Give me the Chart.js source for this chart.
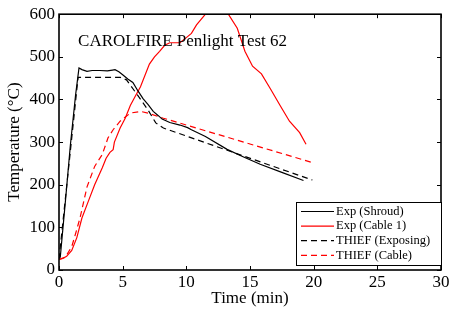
<!DOCTYPE html>
<html>
<head>
<meta charset="utf-8">
<script src="https://cdn.jsdelivr.net/npm/chart.js@4"></script>
<style>
  html, body { margin: 0; padding: 0; background: #fff; }
  #wrap { width: 453px; height: 309px; }
</style>
</head>
<body>
<div id="wrap"><canvas id="c"></canvas></div>
<script>
// Data (time in min, temperature in °C)
const tShroud = [0, 0.1, 0.5, 0.9, 1.3, 1.57, 1.8, 2.2, 2.6, 3.2, 3.8, 4.2, 4.4, 4.7, 5.0, 5.4, 5.8, 6.2, 6.6, 7.0, 7.4, 7.8, 8.1, 8.7, 9.5, 10.1, 10.4, 11.5, 13.2, 14.5, 15.8, 17.5, 19.2];
const vShroud = [28, 30, 160, 295, 410, 474, 470, 466, 468, 468, 467, 469, 470, 465, 458, 448, 440, 420, 402, 388, 372, 362, 354, 346, 340, 334, 329, 313, 283, 265, 248, 229, 210];

const tCable1 = [0, 0.3, 0.6, 1.0, 1.4, 1.8, 2.3, 2.8, 3.4, 3.7, 4.0, 4.25, 4.35, 4.8, 5.2, 5.6, 6.0, 6.4, 7.1, 7.5, 7.9, 8.3, 8.7, 9.5, 10.0, 10.4, 10.8, 11.5, 12.4, 13.3, 14.0, 14.6, 15.2, 15.9, 16.6, 17.4, 18.1, 18.9, 19.4];
const vCable1 = [25, 27, 32, 46, 76, 122, 161, 200, 240, 262, 276, 282, 300, 333, 356, 386, 408, 430, 483, 500, 513, 527, 533, 533, 545, 555, 575, 600, 640, 600, 567, 513, 478, 460, 425, 384, 349, 322, 295];

const tExposing = [0, 1.5, 4.8, 5.3, 6.2, 7.0, 7.6, 8.2, 19.9];
const vExposing = [25, 452, 452, 446, 409, 375, 345, 333, 211];

const tCable = [0, 0.5, 1.0, 1.3, 1.65, 2.2, 2.8, 3.4, 3.85, 4.25, 4.8, 5.6, 6.4, 7.0, 8.2, 19.9];
const vCable = [25, 30, 55, 85, 122, 195, 243, 271, 310, 329, 349, 368, 372, 368, 356, 252];

const labels = ['Exp (Shroud)', 'Exp (Cable 1)', 'THIEF (Exposing)', 'THIEF (Cable)'];
const titleText = 'CAROLFIRE Penlight Test 62';
const xTicksMax = 30, yTicksMax = 600;

const FONT = '"Liberation Serif", "Times New Roman", serif';

function pts(t, v) {
  return t.map((x, i) => ({ x: x, y: v[i] }));
}

function ds(label, t, v, color, dash) {
  return {
    label: label,
    data: pts(t, v),
    borderColor: color,
    borderWidth: 1.2,
    borderDash: dash,
    pointRadius: 0,
    tension: 0,
    fill: false
  };
}

// frame, inward ticks, title text and legend box
const decor = {
  id: 'decor',
  afterDraw(chart) {
    const ctx = chart.ctx;
    const a = chart.chartArea;
    const xs = chart.scales.x, ys = chart.scales.y;
    ctx.save();
    ctx.strokeStyle = '#000';
    ctx.lineWidth = 1;
    const tl = 4;
    ctx.beginPath();
    xs.ticks.forEach(tk => {
      const px = Math.round(xs.getPixelForValue(tk.value)) + 0.5;
      ctx.moveTo(px, a.bottom); ctx.lineTo(px, a.bottom - tl);
      ctx.moveTo(px, a.top); ctx.lineTo(px, a.top + tl);
    });
    ys.ticks.forEach(tk => {
      const py = Math.round(ys.getPixelForValue(tk.value)) + 0.5;
      ctx.moveTo(a.left, py); ctx.lineTo(a.left + tl, py);
      ctx.moveTo(a.right, py); ctx.lineTo(a.right - tl, py);
    });
    ctx.stroke();
    ctx.lineWidth = 1.6;
    ctx.strokeRect(a.left, a.top, a.right - a.left, a.bottom - a.top);

    // annotation text
    ctx.fillStyle = '#000';
    ctx.font = '17px ' + FONT;
    ctx.textBaseline = 'middle';
    ctx.textAlign = 'left';
    ctx.fillText(titleText, xs.getPixelForValue(1.5), ys.getPixelForValue(537));

    // legend
    const bw = 145, bh = 63;
    const bx = a.right - bw, by = a.bottom - 5 - bh;
    ctx.fillStyle = '#fff';
    ctx.fillRect(bx, by, bw, bh);
    ctx.lineWidth = 1;
    ctx.strokeStyle = '#000';
    ctx.strokeRect(bx + 0.5, by + 0.5, bw, bh);
    ctx.font = '12.5px ' + FONT;
    chart.data.datasets.forEach((d, i) => {
      const ry = by + 9.5 + i * 14.6;
      ctx.beginPath();
      ctx.strokeStyle = d.borderColor;
      ctx.lineWidth = 1.2;
      ctx.setLineDash(d.borderDash || []);
      ctx.moveTo(bx + 5, ry);
      ctx.lineTo(bx + 38, ry);
      ctx.stroke();
      ctx.setLineDash([]);
      ctx.fillStyle = '#000';
      ctx.fillText(d.label, bx + 40, ry);
    });
    ctx.restore();
  }
};

new Chart(document.getElementById('c'), {
  type: 'line',
  data: {
    datasets: [
      ds(labels[0], tShroud, vShroud, '#000000', []),
      ds(labels[1], tCable1, vCable1, '#ff0000', []),
      ds(labels[2], tExposing, vExposing, '#000000', [6, 4]),
      ds(labels[3], tCable, vCable, '#ff0000', [6, 4])
    ]
  },
  options: {
    responsive: true,
    maintainAspectRatio: false,
    animation: false,
    layout: { padding: { top: 9, right: 12, left: 0, bottom: 0 } },
    plugins: { legend: { display: false }, tooltip: { enabled: false } },
    scales: {
      x: {
        type: 'linear',
        min: 0, max: xTicksMax,
        grid: { display: false, drawTicks: false },
        border: { display: false },
        ticks: { stepSize: 5, color: '#000', padding: 2, font: { family: FONT, size: 17 } },
        title: { display: true, text: 'Time (min)', color: '#000', padding: { top: 0, bottom: 0 }, font: { family: FONT, size: 17 } },
        afterFit(s) { s.height = 39; }
      },
      y: {
        min: 0, max: yTicksMax,
        grid: { display: false, drawTicks: false },
        border: { display: false },
        ticks: { stepSize: 100, color: '#000', padding: 4, font: { family: FONT, size: 17 } },
        title: { display: true, text: 'Temperature (°C)', color: '#000', padding: { top: 4, bottom: 0 }, font: { family: FONT, size: 17 } },
        afterFit(s) { s.width = 59; }
      }
    }
  },
  plugins: [decor]
});
</script>
</body>
</html>
